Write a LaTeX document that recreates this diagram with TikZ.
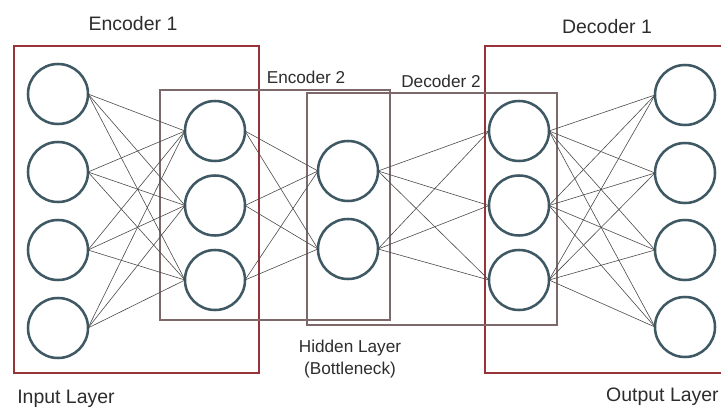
\documentclass[tikz,border=0pt]{standalone}
\usepackage{fontspec}
\setmainfont{Liberation Sans}
\definecolor{ringcol}{RGB}{62,88,100}
\definecolor{framecol}{RGB}{150,52,58}
\definecolor{thinframe}{RGB}{125,105,105}
\definecolor{wirecol}{RGB}{75,75,75}
\definecolor{labelcol}{RGB}{45,45,45}
\begin{document}
\begin{tikzpicture}[x=0.75pt,y=-0.75pt,
  neuron/.style={circle,draw=ringcol,line width=1.9pt,fill=white,
    minimum size=45pt,inner sep=0pt,outer sep=0pt},
  bigframe/.style={draw=framecol,line width=1.9pt},
  smallframe/.style={draw=thinframe,line width=0.8pt},
  wire/.style={draw=wirecol,line width=0.45pt},
  biglabel/.style={text=labelcol,font=\fontsize{14.6pt}{17pt}\selectfont,inner sep=0pt},
  smalllabel/.style={text=labelcol,font=\fontsize{12.9pt}{16.5pt}\selectfont,inner sep=0pt}]
\useasboundingbox (0,0) rectangle (721,407);
\fill[white] (0,0) rectangle (721,407);

% group frames
\draw[bigframe] (14,46) rectangle (259,373);
\draw[bigframe] (721,46) -| (485,373) -- (721,373);
\draw[smallframe] (160,90) rectangle (390,320);
\draw[smallframe] (307,93) rectangle (557,325);

% neurons
\foreach \k/\y in {1/94,2/172,3/250,4/328}
  \node[neuron] (i\k) at (58,\y) {};
\foreach \k/\y in {1/131,2/205.5,3/280}
  \node[neuron] (e\k) at (215,\y) {};
\foreach \k/\y in {1/171,2/249}
  \node[neuron] (b\k) at (348,\y) {};
\foreach \k/\y in {1/131,2/205.5,3/280}
  \node[neuron] (d\k) at (519,\y) {};
\foreach \k/\y in {1/95,2/173,3/250,4/327}
  \node[neuron] (o\k) at (685,\y) {};

% fully connected weights
\foreach \a in {1,...,4}
  \foreach \b in {1,...,3}
    \draw[wire] (i\a.east) -- (e\b.west);
\foreach \a in {1,...,3}
  \foreach \b in {1,2}
    \draw[wire] (e\a.east) -- (b\b.west);
\foreach \a in {1,2}
  \foreach \b in {1,...,3}
    \draw[wire] (b\a.east) -- (d\b.west);
\foreach \a in {1,...,3}
  \foreach \b in {1,...,4}
    \draw[wire] (d\a.east) -- (o\b.west);

% labels
\node[biglabel,anchor=base] (enc1) at (133,30) {Encoder 1};
\node[biglabel,anchor=base] (dec1) at (607,33) {Decoder 1};
\node[smalllabel,anchor=base] (enc2) at (306,83) {Encoder 2};
\node[smalllabel,anchor=base] (dec2) at (441,87) {Decoder 2};
\node[smalllabel,anchor=base] (hid1) at (350,352) {Hidden Layer};
\node[smalllabel,anchor=base] (hid2) at (350,374) {(Bottleneck)};
\node[biglabel,anchor=base west] (inl) at (17,403) {Input Layer};
\node[biglabel,anchor=base east] (outl) at (719,401) {Output Layer};
\end{tikzpicture}
\end{document}
